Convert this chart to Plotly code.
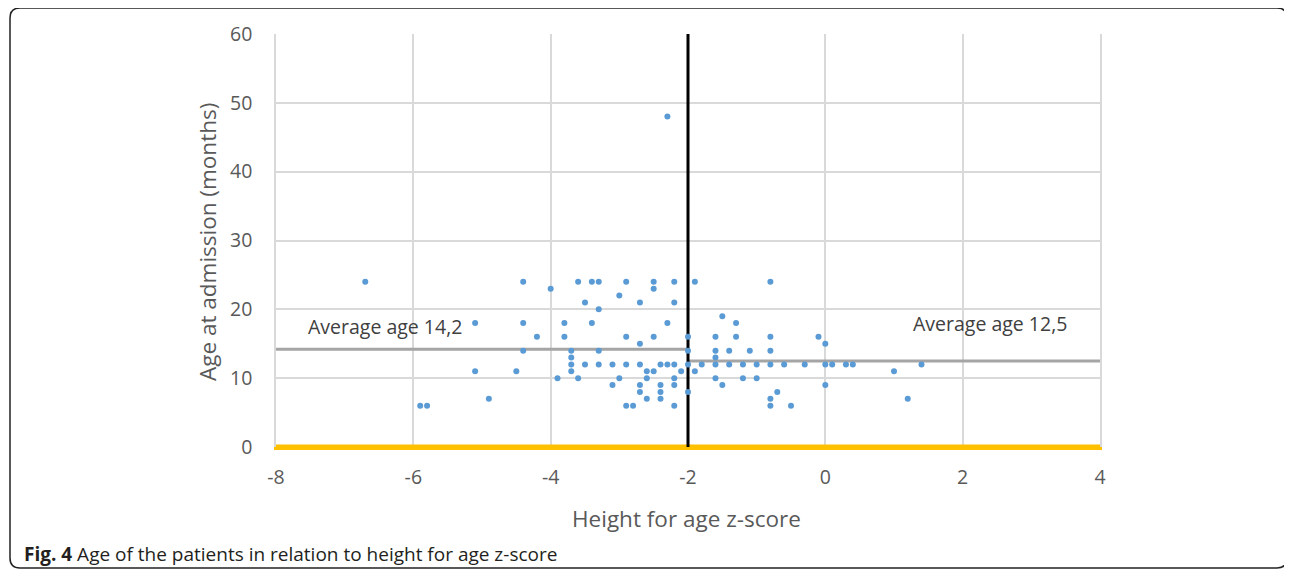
import plotly.graph_objects as go

# ---- data ----
z_scores = [-6.7, -5.9, -5.8, -5.1, -5.1, -4.9, -4.5, -4.4, -4.4, -4.4, -4.2, -4.0, -3.9,
            -3.8, -3.8, -3.7, -3.7, -3.7, -3.7, -3.6, -3.6, -3.5, -3.5, -3.4, -3.4,
            -3.3, -3.3, -3.3, -3.3, -3.1, -3.1, -3.0, -3.0, -2.9, -2.9, -2.9, -2.9, -2.8,
            -2.7, -2.7, -2.7, -2.7, -2.7, -2.6, -2.6, -2.6, -2.5, -2.5, -2.5, -2.5,
            -2.4, -2.4, -2.4, -2.4, -2.3, -2.3, -2.3, -2.2, -2.2, -2.2, -2.2, -2.2, -2.2,
            -2.1, -2.0, -2.0, -2.0, -2.0, -1.9, -1.9, -1.8,
            -1.6, -1.6, -1.6, -1.6, -1.6, -1.5, -1.5, -1.4, -1.4, -1.3, -1.3, -1.2, -1.2,
            -1.1, -1.0, -1.0, -0.8, -0.8, -0.8, -0.8, -0.8, -0.8, -0.7, -0.6, -0.5, -0.3,
            -0.1, 0.0, 0.0, 0.0, 0.1, 0.3, 0.4, 1.0, 1.2, 1.4]
ages = [24, 6, 6, 18, 11, 7, 11, 24, 18, 14, 16, 23, 10,
        18, 16, 14, 13, 12, 11, 24, 10, 21, 12, 24, 18,
        24, 20, 14, 12, 12, 9, 22, 10, 24, 16, 12, 6, 6,
        21, 15, 12, 9, 8, 11, 10, 7, 24, 23, 16, 11,
        12, 9, 8, 7, 48, 18, 12, 24, 21, 12, 10, 9, 6,
        11, 16, 14, 12, 8, 24, 11, 12,
        16, 14, 13, 12, 10, 19, 9, 14, 12, 18, 16, 12, 10,
        14, 12, 10, 24, 16, 14, 12, 7, 6, 8, 12, 6, 12,
        16, 15, 12, 9, 12, 12, 12, 11, 7, 12]

cutoff_z = -2
avg_below = 14.2
avg_above = 12.5
label_below = "Average age 14,2"
label_above = "Average age 12,5"

x_ticks = [-8, -6, -4, -2, 0, 2, 4]
x_tick_labels = ["-8", "-6", "-4", "-2", "0", "2", "4"]
y_ticks = [0, 10, 20, 30, 40, 50, 60]

x_title = "Height for age z-score"
y_title = "Age at admission (months)"
caption_bold = "Fig. 4"
caption_rest = " Age of the patients in relation to height for age z-score"

# ---- layout geometry (page body adds an 8px margin) ----
OFF = 8
W, H = 1292 - OFF, 574 - OFF
ML, MR, MT, MB = 276 - OFF, 192, 34 - OFF, 127
PW = W - ML - MR
PH = H - MT - MB


def px(x):
    # reference-window pixel x -> paper x
    return (x - OFF - ML) / PW


def py(y):
    # reference-window pixel y -> paper y
    return (H - MB - (y - OFF)) / PH


FONT = "Open Sans"
TICK_COLOR = "#595959"
ORANGE = "#FFC000"

fig = go.Figure()

# baseline (orange)
fig.add_trace(go.Scatter(x=[x_ticks[0], x_ticks[-1]], y=[0, 0], mode="lines",
                         line=dict(color=ORANGE, width=5), hoverinfo="skip",
                         showlegend=False))
# averages
fig.add_trace(go.Scatter(x=[x_ticks[0], cutoff_z], y=[avg_below, avg_below], mode="lines",
                         line=dict(color="#A5A5A5", width=3), showlegend=False))
fig.add_trace(go.Scatter(x=[cutoff_z, x_ticks[-1]], y=[avg_above, avg_above], mode="lines",
                         line=dict(color="#A5A5A5", width=3), showlegend=False))
# cutoff vertical line
fig.add_trace(go.Scatter(x=[cutoff_z, cutoff_z], y=[y_ticks[0], y_ticks[-1]], mode="lines",
                         line=dict(color="#000000", width=3), showlegend=False))
# patients
fig.add_trace(go.Scatter(x=z_scores, y=ages, mode="markers",
                         marker=dict(color="#5B9BD5", size=6), showlegend=False))

tickfont = dict(family=FONT, size=19.5, color=TICK_COLOR)

fig.update_xaxes(range=[x_ticks[0], x_ticks[-1]], tickvals=x_ticks, ticktext=x_tick_labels,
                 showgrid=True, gridcolor="#D9D9D9", gridwidth=1.5, zeroline=False,
                 showline=True, linecolor=ORANGE, linewidth=2.5, mirror=False,
                 ticks="", tickfont=tickfont, ticklabelstandoff=11)
fig.update_yaxes(range=[y_ticks[0], y_ticks[-1]], tickvals=y_ticks,
                 showgrid=True, gridcolor="#D9D9D9", gridwidth=1.5, zeroline=False,
                 showline=True, linecolor="#D9D9D9", linewidth=1.5, mirror=True,
                 ticks="", tickfont=tickfont, ticklabelstandoff=18)

annotations = [
    dict(x=px(686), y=py(518), xref="paper", yref="paper", text=x_title, showarrow=False,
         font=dict(family=FONT, size=22.5, color=TICK_COLOR), xanchor="center", yanchor="middle"),
    dict(x=px(208), y=py(242), xref="paper", yref="paper", text=y_title, showarrow=False,
         textangle=-90, font=dict(family=FONT, size=22.5, color=TICK_COLOR),
         xanchor="center", yanchor="middle"),
    dict(x=-7.57, y=17.5, xref="x", yref="y", text=label_below, showarrow=False,
         font=dict(family=FONT, size=19.5, color="#404040"), xanchor="left", yanchor="middle"),
    dict(x=1.25, y=18.0, xref="x", yref="y", text=label_above, showarrow=False,
         font=dict(family=FONT, size=19.5, color="#404040"), xanchor="left", yanchor="middle"),
    dict(x=px(22), y=py(554), xref="paper", yref="paper",
         text="<b>" + caption_bold + "</b>" + caption_rest, showarrow=False,
         font=dict(family=FONT, size=19, color="#231F20"), xanchor="left", yanchor="middle"),
]

# rounded frame around the figure
L, R, T, B, r = 10, 1287, 8, 568, 10
path = (f"M {px(L + r)},{py(T)} L {px(R - r)},{py(T)} Q {px(R)},{py(T)} {px(R)},{py(T + r)} "
        f"L {px(R)},{py(B - r)} Q {px(R)},{py(B)} {px(R - r)},{py(B)} "
        f"L {px(L + r)},{py(B)} Q {px(L)},{py(B)} {px(L)},{py(B - r)} "
        f"L {px(L)},{py(T + r)} Q {px(L)},{py(T)} {px(L + r)},{py(T)} Z")

fig.update_layout(
    width=W, height=H,
    margin=dict(l=ML, r=MR, t=MT, b=MB),
    paper_bgcolor="white", plot_bgcolor="white",
    annotations=annotations,
    shapes=[dict(type="path", path=path, xref="paper", yref="paper",
                 line=dict(color="#222222", width=1.5), layer="below")],
    font=dict(family=FONT),
)

fig.write_html("out.html")
